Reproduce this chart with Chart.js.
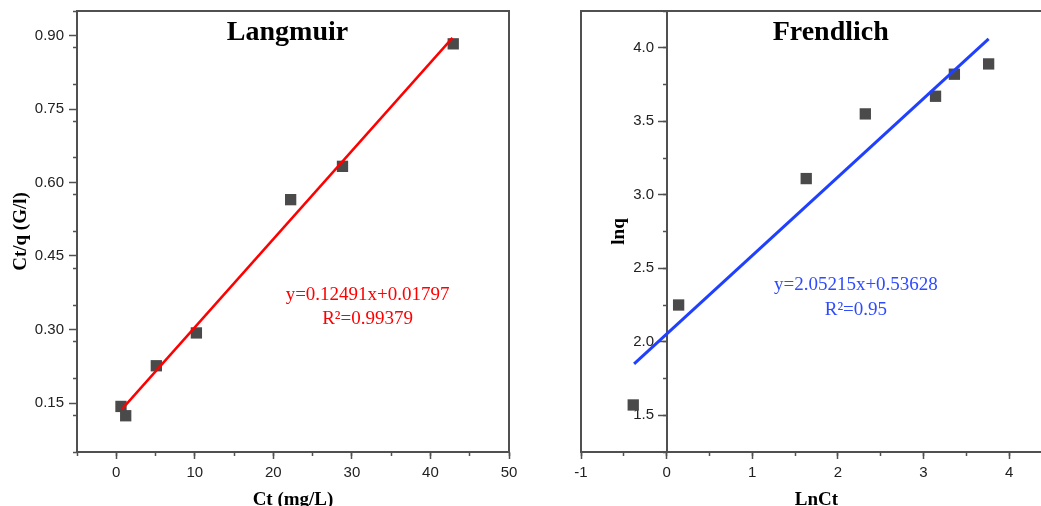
<!DOCTYPE html>
<html>
<head>
<meta charset="utf-8">
<script src="https://cdn.jsdelivr.net/npm/chart.js@4"></script>
<style>
  html, body { margin: 0; padding: 0; background: #fff; overflow: hidden; }
  .panel { position: absolute; top: 0; }
</style>
</head>
<body>
<div class="panel" style="left:0"><canvas id="langmuir" width="540" height="506"></canvas></div>
<div class="panel" style="left:540px"><canvas id="frendlich" width="540" height="506"></canvas></div>
<script>
// Langmuir
const langCt = [0.6, 1.2, 5.1, 10.2, 22.2, 28.8, 42.9];
const langCtq = [0.143, 0.124, 0.226, 0.293, 0.565, 0.633, 0.883];
const langFitX = [0.7, 42.8];
const langFitY = [0.137, 0.895];
const langXTicks = [0, 10, 20, 30, 40, 50];
const langYTicks = [0.15, 0.3, 0.45, 0.6, 0.75, 0.9];

// Frendlich
const frLnCt = [-0.39, 0.14, 1.63, 2.32, 3.14, 3.36, 3.76];
const frLnq = [1.57, 2.25, 3.11, 3.55, 3.67, 3.82, 3.89];
const frFitX = [-0.38, 3.76];
const frFitY = [1.85, 4.06];
const frXTicks = [-1, 0, 1, 2, 3, 4];
const frYTicks = [1.5, 2.0, 2.5, 3.0, 3.5, 4.0];

const AXIS = "#505050";
const sans = "'Liberation Sans', Arial, sans-serif";
const serif = "'Liberation Serif', 'Times New Roman', serif";

const toPoints = (xs, ys) => xs.map((x, i) => ({ x, y: ys[i] }));

const zeroPad = (s) => {
  s.paddingLeft = s.paddingRight = s.paddingTop = s.paddingBottom = 0;
};

const fitTo = (size) => (s) => {
  zeroPad(s);
  if (size === undefined) return;
  if (s.isHorizontal()) s.height = size;
  else s.width = size;
};

const axisTitle = (text, padding, lineHeight) => ({
  display: true,
  text,
  color: "#000",
  font: { family: serif, size: 19, weight: "bold", lineHeight },
  padding,
});

// axis with labelled ticks
const majorAxis = (axis, position, min, max, values, digits, tickLength, padding, size, title, suffix = "") => ({
  type: "linear",
  axis,
  position,
  min,
  max,
  afterBuildTicks: (s) => {
    s.ticks = values.map((value) => ({ value }));
  },
  afterFit: fitTo(size),
  ticks: {
    includeBounds: false,
    padding,
    color: "#222",
    font: { family: sans, size: 15 },
    // a positioned axis puts its labels right on the line, so pad them by hand
    callback: (v) => Number(v).toFixed(digits) + suffix,
  },
  grid: { drawOnChartArea: false, tickLength, tickColor: AXIS, tickWidth: 1.5 },
  border: { color: AXIS, width: 2 },
  title: title || { display: false },
});

// short unlabelled ticks
const minorAxis = (axis, position, min, max, stepSize) => ({
  type: "linear",
  axis,
  position,
  min,
  max,
  afterFit: zeroPad,
  ticks: { display: false, stepSize },
  grid: { drawOnChartArea: false, tickLength: 4, tickColor: AXIS, tickWidth: 1.5 },
  border: { display: false },
});

// plain frame line
const frameAxis = (axis, position, min, max, size, title) => ({
  type: "linear",
  axis,
  position,
  min,
  max,
  afterFit: fitTo(size),
  ticks: { display: false },
  grid: { display: false },
  border: { color: AXIS, width: 2 },
  title: title || { display: false },
});

const notes = {
  id: "notes",
  afterDatasetsDraw(chart, args, opts) {
    const { ctx } = chart;
    const x = chart.scales.x;
    const y = chart.scales.y;
    ctx.save();
    ctx.textAlign = "center";
    ctx.textBaseline = "alphabetic";
    opts.items.forEach((t) => {
      ctx.font = t.font;
      ctx.fillStyle = t.color;
      ctx.fillText(t.text, x.getPixelForValue(t.x), y.getPixelForValue(t.y));
    });
    ctx.restore();
  },
};

const titleFont = `bold 28px ${serif}`;
const eqFont = `19px ${serif}`;

const scatterSet = (xs, ys) => ({
  data: toPoints(xs, ys),
  pointStyle: "rect",
  pointRadius: 8,
  pointHoverRadius: 8,
  backgroundColor: "#4a4a4a",
  borderWidth: 0,
  showLine: false,
});

const fitSet = (xs, ys, color, width) => ({
  data: toPoints(xs, ys),
  showLine: true,
  pointRadius: 0,
  borderColor: color,
  borderWidth: width,
  fill: false,
});

new Chart(document.querySelector("#langmuir"), {
  type: "scatter",
  data: {
    datasets: [
      fitSet(langFitX, langFitY, "#ff0000", 2.5),
      scatterSet(langCt, langCtq),
    ],
  },
  options: {
    responsive: false,
    animation: false,
    layout: { padding: { left: 0, top: 11, right: 31, bottom: 0 } },
    plugins: {
      legend: { display: false },
      tooltip: { enabled: false },
      notes: {
        items: [
          { text: "Langmuir", x: 21.8, y: 0.891, font: titleFont, color: "#000" },
          { text: "y=0.12491x+0.01797", x: 32, y: 0.361, font: eqFont, color: "#ff0000" },
          { text: "R\u00B2=0.99379", x: 32, y: 0.312, font: eqFont, color: "#ff0000" },
        ],
      },
    },
    scales: {
      x: majorAxis("x", "bottom", -5, 50, langXTicks, 0, 7, 5, 54,
        axisTitle("Ct (mg/L)", { top: 0, bottom: 0 }, 0.6)),
      xMinor: minorAxis("x", { y: 0.05 }, -5, 50, 5),
      xTop: frameAxis("x", "top", -5, 50, 0),
      y: majorAxis("y", "left", 0.05, 0.95, langYTicks, 2, 8, 5, 77,
        axisTitle("Ct/q (G/l)", { top: 12, bottom: 0 }, 1)),
      yMinor: minorAxis("y", { x: -5 }, 0.05, 0.95, 0.075),
      yRight: frameAxis("y", "right", 0.05, 0.95, 0),
    },
  },
  plugins: [notes],
});

new Chart(document.querySelector("#frendlich"), {
  type: "scatter",
  data: {
    datasets: [
      fitSet(frFitX, frFitY, "#2040ff", 3),
      scatterSet(frLnCt, frLnq),
    ],
  },
  options: {
    responsive: false,
    animation: false,
    layout: { padding: { left: 0, top: 11, right: 28, bottom: 0 } },
    plugins: {
      legend: { display: false },
      tooltip: { enabled: false },
      notes: {
        items: [
          { text: "Frendlich", x: 1.916, y: 4.052, font: titleFont, color: "#000" },
          { text: "y=2.05215x+0.53628", x: 2.21, y: 2.353, font: eqFont, color: "#2f4bff" },
          { text: "R\u00B2=0.95", x: 2.21, y: 2.179, font: eqFont, color: "#2f4bff" },
        ],
      },
    },
    scales: {
      x: majorAxis("x", "bottom", -1, 4.5, frXTicks, 0, 7, 5, 54,
        axisTitle("LnCt", { top: 0, bottom: 0 }, 0.6)),
      xMinor: minorAxis("x", { y: 1.25 }, -1, 4.5, 0.5),
      xTop: frameAxis("x", "top", -1, 4.5, 0),
      y: frameAxis("y", "left", 1.25, 4.25, 41,
        axisTitle("lnq", { top: 70, bottom: 0 }, 1)),
      y0: majorAxis("y", { x: 0 }, 1.25, 4.25, frYTicks, 1, 8, 5, undefined, null, "   "),
      y0Minor: minorAxis("y", { x: 0 }, 1.25, 4.25, 0.25),
      yRight: frameAxis("y", "right", 1.25, 4.25, 0),
    },
  },
  plugins: [notes],
});
</script>
</body>
</html>
